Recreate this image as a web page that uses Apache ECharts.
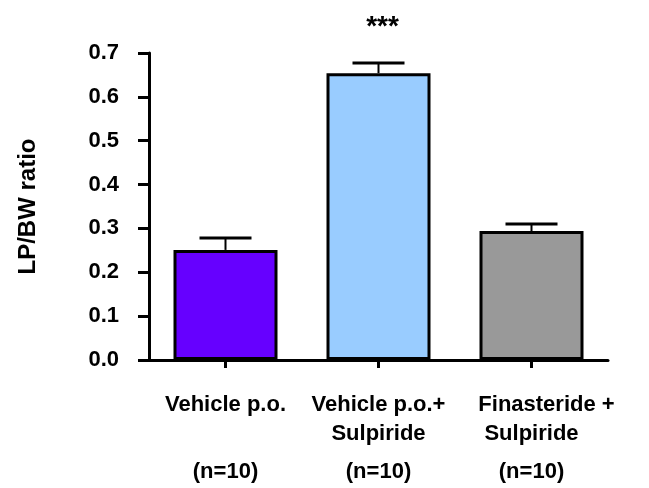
<!DOCTYPE html>
<html>
<head>
<meta charset="utf-8">
<script src="https://cdn.jsdelivr.net/npm/echarts@6/dist/echarts.min.js"></script>
<style>
  html, body { margin: 0; padding: 0; background: #fff; }
  #main { width: 649px; height: 488px; }
</style>
</head>
<body>
<div id="main"></div>
<script>
// data
var groups = ['Vehicle p.o.', 'Vehicle p.o.+\nSulpiride', 'Finasteride +\nSulpiride'];
var nLabels = ['(n=10)', '(n=10)', '(n=10)'];
var means = [0.251, 0.654, 0.294];
var sems = [0.027, 0.023, 0.016];
var stars = ['', '***', ''];
var barColors = ['#6600ff', '#99ccff', '#999999'];

var font = 'Liberation Sans';
var myChart = echarts.init(document.getElementById('main'));

// category labels: name lines + the n= line underneath
function catLabel(value, idx) {
    var lines = value.split('\n');
    var first = idx === 2 ? '{f|' + lines[0] + '}' : '{a|' + lines[0] + '}';
    var second = lines[1] ? '{a|' + lines[1] + '}' : '{a| }';
    return first + '\n' + second + '\n{n|' + nLabels[idx] + '}';
}

var option = {
    backgroundColor: '#fff',
    animation: false,
    grid: {
        left: 149,
        right: 41,
        top: 53,
        bottom: 128
    },
    xAxis: {
        type: 'category',
        data: groups,
        axisLine: {
            lineStyle: { color: '#000', width: 3 }
        },
        axisTick: {
            show: true,
            alignWithLabel: true,
            length: 8,
            lineStyle: { color: '#000', width: 3 }
        },
        axisLabel: {
            interval: 0,
            margin: 30,
            color: '#000',
            formatter: catLabel,
            rich: {
                a: { fontFamily: font, fontWeight: 'bold', fontSize: 22, lineHeight: 29, color: '#000' },
                f: { fontFamily: font, fontWeight: 'bold', fontSize: 22, lineHeight: 29, color: '#000', padding: [0, 0, 0, 30] },
                n: { fontFamily: font, fontWeight: 'bold', fontSize: 22, lineHeight: 47, color: '#000' }
            }
        }
    },
    yAxis: {
        type: 'value',
        min: 0,
        max: 0.7,
        interval: 0.1,
        name: 'LP/BW ratio',
        nameLocation: 'middle',
        nameGap: 109,
        nameRotate: 90,
        nameTextStyle: {
            fontFamily: font,
            fontWeight: 'bold',
            fontSize: 24,
            color: '#000'
        },
        axisLine: {
            show: true,
            lineStyle: { color: '#000', width: 3 }
        },
        axisTick: {
            show: true,
            length: 11,
            lineStyle: { color: '#000', width: 3 }
        },
        axisLabel: {
            margin: 30,
            fontFamily: font,
            fontWeight: 'bold',
            fontSize: 22,
            color: '#000',
            formatter: function (v) { return v.toFixed(1); }
        },
        splitLine: { show: false }
    },
    series: [{
        name: 'LP/BW',
        type: 'bar',
        barWidth: 104,
        data: means.map(function (v, i) {
            return {
                value: v,
                itemStyle: { color: barColors[i] }
            };
        }),
        itemStyle: {
            borderColor: '#000',
            borderWidth: 3
        },
        z: 2
    }, {
        name: 'SEM',
        type: 'custom',
        data: means.map(function (v, i) { return [i, v, v + sems[i]]; }),
        renderItem: function (params, api) {
            var idx = api.value(0);
            var base = api.coord([idx, api.value(1)]);
            var top = api.coord([idx, api.value(2)]);
            var halfCap = 26;
            var children = [{
                type: 'line',
                shape: { x1: base[0], y1: base[1], x2: top[0], y2: top[1] },
                style: { stroke: '#000', lineWidth: 2 }
            }, {
                type: 'line',
                shape: { x1: top[0] - halfCap, y1: top[1], x2: top[0] + halfCap, y2: top[1] },
                style: { stroke: '#000', lineWidth: 3 }
            }];
            if (stars[idx]) {
                children.push({
                    type: 'text',
                    style: {
                        text: stars[idx],
                        x: top[0] + 4,
                        y: top[1] - 36,
                        align: 'center',
                        verticalAlign: 'middle',
                        fontFamily: font,
                        fontWeight: 'bold',
                        fontSize: 28,
                        fill: '#000'
                    }
                });
            }
            return { type: 'group', children: children };
        },
        z: 3
    }]
};
myChart.setOption(option);
</script>
</body>
</html>
